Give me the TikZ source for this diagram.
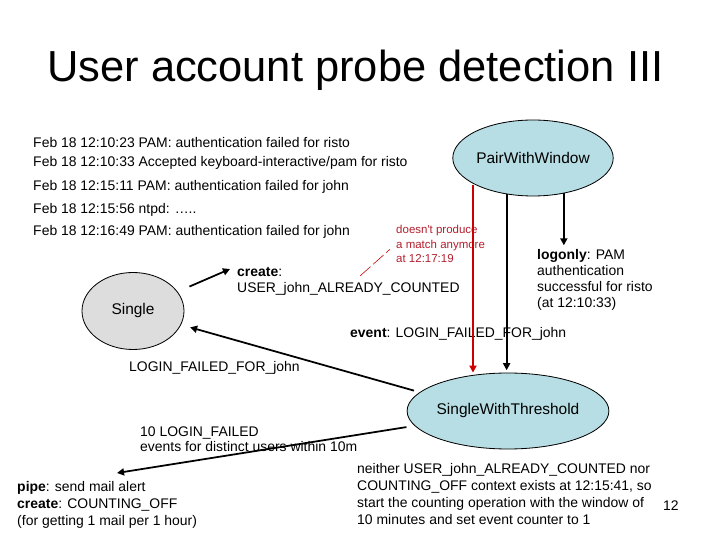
\documentclass[tikz,border=0pt]{standalone}
\usepackage{fontspec}
\setmainfont{Liberation Sans}
\usetikzlibrary{shapes.geometric,arrows.meta}
\definecolor{rulecyan}{RGB}{183,222,228}
\definecolor{rulegray}{RGB}{221,221,221}
\definecolor{matchred}{RGB}{204,0,0}
\definecolor{notered}{RGB}{180,30,45}
\tikzset{
  txt/.style={anchor=base west,inner sep=0pt,align=left,font=\fontsize{11.9}{13.9}\selectfont},
  rulenode/.style={ellipse,draw,line width=0.7pt,fill=rulecyan,inner sep=0pt,font=\fontsize{13.2}{15}\selectfont},
  arr/.style={line width=1.5pt,-{Triangle[length=6pt,width=6pt]}},
}
\begin{document}
\begin{tikzpicture}[x=0.03cm,y=-0.03cm]
\useasboundingbox (0,0) rectangle (720,540);
\path
(473,185) coordinate (R)
(230,269) coordinate (C)
(117,473) coordinate (P)
(360,276) coordinate (N)
;
\node[txt,font=\fontsize{37.1}{40}\selectfont] (title) at (47,82) {User account probe detection III};
\foreach \n/\y/\t in {1/148/{Feb 18 12:10:23 PAM: authentication failed for risto},
  2/167/{Feb 18 12:10:33 Accepted keyboard-interactive/pam for risto},
  3/191/{Feb 18 12:15:11 PAM: authentication failed for john},
  4/214/{Feb 18 12:15:56 ntpd: …..},
  5/236/{Feb 18 12:16:49 PAM: authentication failed for john}}
\node[txt] (log\n) at (33,\y) {\t};

\node[rulenode,minimum width=4.26cm,minimum height=2.28cm] (pww) at (533,158) {PairWithWindow};
\node[rulenode,minimum width=4.8cm,minimum height=2.28cm] (swt) at (508,411) {SingleWithThreshold};
\node[rulenode,fill=rulegray,minimum width=3.06cm,minimum height=2.31cm] (single) at (133,311) {Single};

% multi-line texts sit on the baseline of their last line
\node[txt,font=\fontsize{9.8}{12.8}\selectfont,text=notered] (note) at (396,263) {doesn\textquotesingle t produce\\a match anymore\\at 12:17:19};
\node[txt] (create) at (237,293) {\textbf{create}:\\USER\_john\_ALREADY\_COUNTED};
\node[txt] (logonly) at (537,308) {\textbf{logonly}: PAM\\authentication\\successful for risto\\(at 12:10:33)};
\node[txt] (event) at (350,338) {\textbf{event}: LOGIN\_FAILED\_FOR\_john};
\node[txt] (loginlabel) at (129,372) {LOGIN\_FAILED\_FOR\_john};
\node[txt,font=\fontsize{11.9}{12.8}\selectfont] (threshold) at (140,451) {10 LOGIN\_FAILED\\events for distinct users within 10m};
\node[txt,font=\fontsize{11.9}{14.5}\selectfont] (pipe) at (17,525) {\textbf{pipe}: send mail alert\\\textbf{create}: COUNTING\_OFF\\(for getting 1 mail per 1 hour)};
\node[txt,font=\fontsize{11.9}{14.5}\selectfont] (neither) at (357,524) {neither USER\_john\_ALREADY\_COUNTED nor\\COUNTING\_OFF context exists at 12:15:41, so\\start the counting operation with the window of\\10 minutes and set event counter to 1};
\node[txt] (slideno) at (663,510) {12};

\draw[arr,matchred] (R) -- (R |- swt.north);
\draw[arr,shorten >=2pt] (pww.-126) -- (pww.-126 |- swt.north);
\draw[arr,shorten >=3pt] (pww.-49) -- (pww.-49 |- logonly.north);
\draw[arr,shorten <=11pt] (single) -- (C);
\draw[arr,shorten <=5pt,shorten >=8pt] (swt.168) -- (single.-16);
\draw[arr,shorten <=7pt] (swt.-171) -- (P);
\draw[matchred,line width=0.5pt,dash pattern=on 12pt off 3pt,shorten >=7pt] (N) -- (note.west);
\end{tikzpicture}
\end{document}
